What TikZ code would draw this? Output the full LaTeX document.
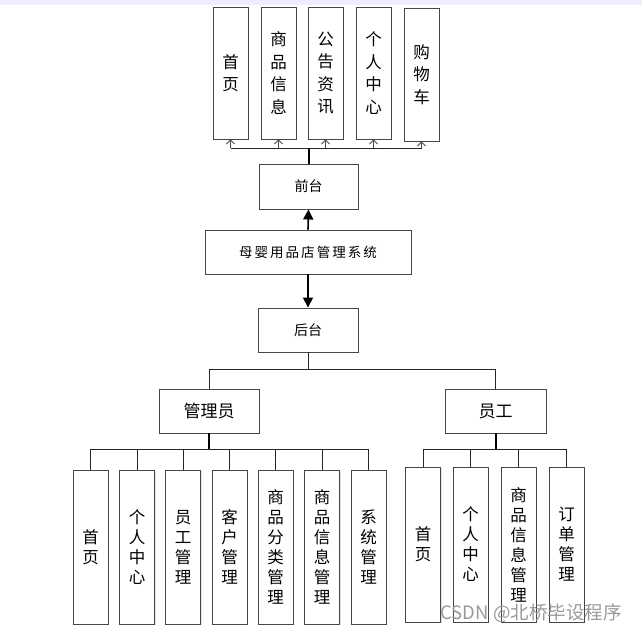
\documentclass[tikz,border=0pt]{standalone}
\usepackage{fontspec}
\setmainfont{Noto Sans CJK SC}
\usetikzlibrary{arrows.meta,shadows}
\begin{document}
\begin{tikzpicture}[x=1pt,y=-1pt,
  box/.style={rectangle,draw=black!72,line width=0.9pt,fill=white,inner sep=0pt,align=center,
    drop shadow={shadow xshift=1.2pt,shadow yshift=-1.2pt,fill=black!22}},
  tallbox/.style={box,minimum width=35pt,font=\fontsize{16.5pt}{22.5pt}\selectfont},
  lowbox/.style={box,minimum width=35pt,minimum height=154pt,font=\fontsize{16.5pt}{20pt}\selectfont},
  midbox/.style={box,minimum width=100pt,minimum height=44pt},
  thinarrow/.style={draw=black!70,line width=0.8pt,-{Straight Barb[length=4pt,width=8pt]}},
  bigarrow/.style={draw=black,line width=1.6pt,-{Triangle[length=10pt,width=10pt]}},
  link/.style={draw=black!85,line width=1pt},
  trunk/.style={draw=black,line width=2pt}]
\useasboundingbox (0,0) rectangle (642,634);
\fill[blue!7] (0,0) rectangle (642,5);

% top level
\node[tallbox,minimum height=132pt] (t1) at (230.5,73) {首\\页};
\node[tallbox,minimum height=132pt] (t2) at (278.5,73) {商\\品\\信\\息};
\node[tallbox,minimum height=132pt] (t3) at (325.5,73) {公\\告\\资\\讯};
\node[tallbox,minimum height=132pt] (t4) at (373.5,73) {个\\人\\中\\心};
\node[tallbox,minimum height=133pt] (t5) at (421.5,74.5) {购\\物\\车};

\node[midbox,minimum width=99pt,minimum height=45pt,font=\fontsize{14pt}{16pt}\selectfont] (qt) at (308.5,186.5) {前台};
\node[midbox,minimum width=206pt,font=\fontsize{13.5pt}{16pt}\selectfont\addfontfeature{LetterSpace=15}] (sys) at (308,252) {母婴用品店管理系统};
\node[midbox,font=\fontsize{14pt}{16pt}\selectfont] (ht) at (308,330) {后台};
\node[midbox,font=\fontsize{17pt}{19pt}\selectfont] (gly) at (209,411) {管理员};
\node[midbox,minimum width=101pt,font=\fontsize{17pt}{19pt}\selectfont] (yg) at (495.5,411) {员工};

% admin children
\node[lowbox] (a1) at (90.5,547) {首\\页};
\node[lowbox] (a2) at (137,547) {个\\人\\中\\心};
\node[lowbox] (a3) at (183,547) {员\\工\\管\\理};
\node[lowbox] (a4) at (229.5,547) {客\\户\\管\\理};
\node[lowbox] (a5) at (275.5,547) {商\\品\\分\\类\\管\\理};
\node[lowbox] (a6) at (322,547) {商\\品\\信\\息\\管\\理};
\node[lowbox] (a7) at (368.5,547) {系\\统\\管\\理};

% staff children
\node[lowbox,minimum height=155pt] (s1) at (423,544.5) {首\\页};
\node[lowbox,minimum height=155pt] (s2) at (470.5,544.5) {个\\人\\中\\心};
\node[lowbox,minimum height=155pt] (s3) at (518.5,544.5) {商\\品\\信\\息\\管\\理};
\node[lowbox,minimum height=155pt] (s4) at (566.5,544.5) {订\\单\\管\\理};

% top bus
\coordinate (tb) at (308.5,148);
\draw[link] (t1.south |- tb) -- (t5.south |- tb);
\draw[trunk] (qt.north) -- (qt.north |- tb);
\foreach \n in {t1,t2,t3,t4,t5} \draw[thinarrow] (\n.south |- tb) -- (\n.south);

% system arrows
\draw[bigarrow] (sys.north) -- (qt.south);
\draw[bigarrow] (sys.south) -- (ht.north);

% back-end split
\coordinate (hb) at (308,369);
\draw[link] (ht.south) -- (hb);
\draw[link] (gly.north |- hb) -- (yg.north |- hb);
\draw[link] (gly.north |- hb) -- (gly.north);
\draw[link] (yg.north |- hb) -- (yg.north);

% admin bus
\coordinate (ab) at (209,449);
\draw[trunk] (gly.south) -- (ab);
\draw[link] (a1.north |- ab) -- (a7.north |- ab);
\foreach \n in {a1,a2,a3,a4,a5,a6,a7} \draw[link] (\n.north |- ab) -- (\n.north);

% staff bus
\coordinate (sb) at (495.5,449);
\draw[trunk] (yg.south) -- (sb);
\draw[link] (s1.north |- sb) -- (s4.north |- sb);
\foreach \n in {s1,s2,s3,s4} \draw[link] (\n.north |- sb) -- (\n.north);

% watermark
\node[text=black!40,font=\fontsize{18.5pt}{20pt}\selectfont,anchor=center] (wm) at (531,613) {CSDN @北桥毕设程序};
\end{tikzpicture}
\end{document}
